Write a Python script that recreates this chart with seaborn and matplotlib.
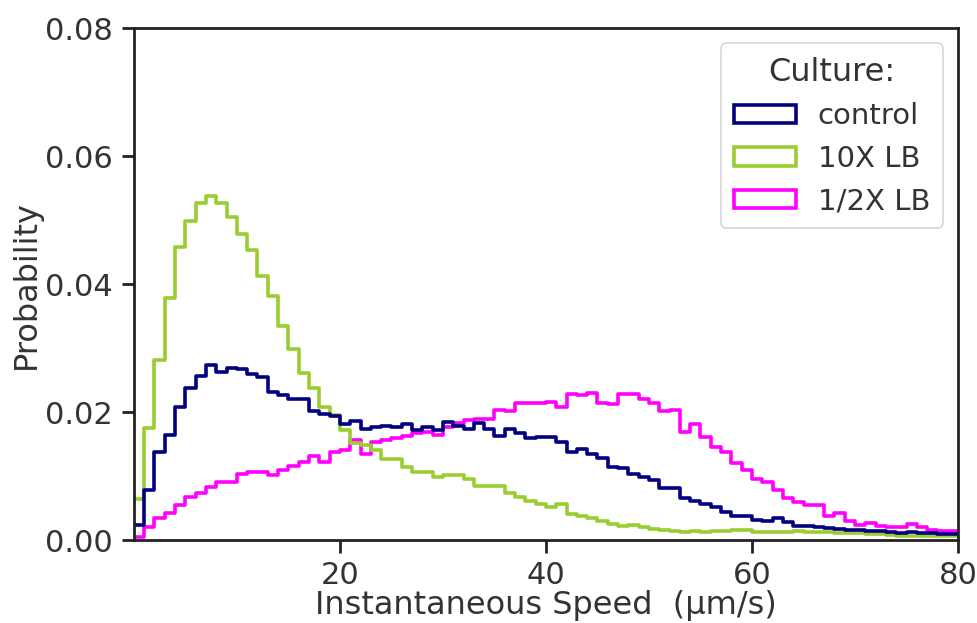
import numpy as np
import pandas as pd
import matplotlib
matplotlib.use("Agg")
import matplotlib.pyplot as plt
from matplotlib.patches import Patch
import seaborn as sns

# ---- data (probability per 1 µm/s bin, bins 0..80) ----
bin_edges = list(range(0, 81))
cultures = ["control", "10X LB", "1/2X LB"]
colors = ["navy", "yellowgreen", "magenta"]

control = [
    0.0023, 0.0078, 0.0138, 0.0164, 0.0208, 0.0238, 0.0256, 0.0274, 0.0262, 0.0269,
    0.0267, 0.0260, 0.0255, 0.0231, 0.0227, 0.0221, 0.0221, 0.0202, 0.0197, 0.0194,
    0.0182, 0.0186, 0.0173, 0.0177, 0.0178, 0.0176, 0.0182, 0.0172, 0.0177, 0.0172,
    0.0185, 0.0178, 0.0174, 0.0183, 0.0174, 0.0163, 0.0174, 0.0167, 0.0160, 0.0161,
    0.0161, 0.0154, 0.0138, 0.0143, 0.0135, 0.0129, 0.0115, 0.0112, 0.0104, 0.0099,
    0.0094, 0.0081, 0.0082, 0.0066, 0.0061, 0.0056, 0.0051, 0.0044, 0.0038, 0.0038,
    0.0031, 0.0030, 0.0034, 0.0029, 0.0022, 0.0022, 0.0021, 0.0019, 0.0017, 0.0016,
    0.0016, 0.0014, 0.0014, 0.0012, 0.0011, 0.0013, 0.0011, 0.0011, 0.0009, 0.0009,
]
lb10x = [
    0.0065, 0.0175, 0.0281, 0.0378, 0.0458, 0.0498, 0.0527, 0.0538, 0.0526, 0.0505,
    0.0478, 0.0453, 0.0413, 0.0382, 0.0334, 0.0298, 0.0261, 0.0237, 0.0208, 0.0195,
    0.0172, 0.0151, 0.0149, 0.0141, 0.0126, 0.0126, 0.0115, 0.0107, 0.0107, 0.0099,
    0.0102, 0.0102, 0.0095, 0.0084, 0.0084, 0.0084, 0.0074, 0.0068, 0.0061, 0.0057,
    0.0052, 0.0056, 0.0041, 0.0038, 0.0034, 0.0030, 0.0025, 0.0022, 0.0023, 0.0021,
    0.0018, 0.0016, 0.0014, 0.0013, 0.0015, 0.0013, 0.0014, 0.0014, 0.0016, 0.0016,
    0.0013, 0.0013, 0.0013, 0.0013, 0.0015, 0.0012, 0.0013, 0.0012, 0.0011, 0.0011,
    0.0011, 0.0009, 0.0009, 0.0008, 0.0007, 0.0007, 0.0006, 0.0006, 0.0006, 0.0006,
]
lb_half = [
    0.0005, 0.0021, 0.0034, 0.0042, 0.0055, 0.0068, 0.0073, 0.0083, 0.0091, 0.0091,
    0.0104, 0.0107, 0.0107, 0.0101, 0.0110, 0.0116, 0.0122, 0.0131, 0.0122, 0.0137,
    0.0141, 0.0156, 0.0134, 0.0154, 0.0157, 0.0160, 0.0163, 0.0167, 0.0169, 0.0164,
    0.0176, 0.0183, 0.0188, 0.0190, 0.0189, 0.0204, 0.0202, 0.0214, 0.0214, 0.0214,
    0.0216, 0.0208, 0.0229, 0.0227, 0.0230, 0.0215, 0.0212, 0.0228, 0.0228, 0.0220,
    0.0215, 0.0201, 0.0204, 0.0169, 0.0181, 0.0161, 0.0146, 0.0138, 0.0121, 0.0109,
    0.0096, 0.0091, 0.0079, 0.0066, 0.0060, 0.0055, 0.0055, 0.0038, 0.0042, 0.0030,
    0.0024, 0.0027, 0.0022, 0.0021, 0.0021, 0.0025, 0.0021, 0.0016, 0.0014, 0.0014,
]
x_ticks = [20, 40, 60, 80]
y_ticks = [0.00, 0.02, 0.04, 0.06, 0.08]

# ---- build long table ----
centers = (np.array(bin_edges[:-1]) + np.array(bin_edges[1:])) / 2.0
frames = []
for name, vals in zip(cultures, [control, lb10x, lb_half]):
    frames.append(pd.DataFrame({"speed": centers, "prob": vals, "Culture": name}))
df = pd.concat(frames, ignore_index=True)

sns.set_theme(style="ticks")
plt.rcParams["font.family"] = ["DejaVu Sans"]
text_color = "#333333"
plt.rcParams.update({
    "text.color": text_color, "axes.labelcolor": text_color,
    "xtick.color": "#222222", "ytick.color": "#222222",
    "axes.edgecolor": "#222222",
})

FS = 23
fig = plt.figure(figsize=(9.77, 6.23), dpi=100)
ax = fig.add_axes([0.137, 0.133, 0.8436, 0.822])

sns.histplot(
    data=df, x="speed", weights="prob", hue="Culture", hue_order=cultures,
    palette=dict(zip(cultures, colors)), bins=bin_edges, stat="count",
    element="step", fill=False, linewidth=2.6, legend=False, ax=ax,
)

ax.set_xlim(0, 80)
ax.set_ylim(0, 0.08)
ax.set_xticks(x_ticks)
ax.set_yticks(y_ticks)
ax.set_yticklabels([f"{v:.2f}" for v in y_ticks])
ax.tick_params(axis="both", labelsize=22, length=9, width=2, pad=6,
               labelcolor=text_color)
for sp in ax.spines.values():
    sp.set_linewidth(2)
ax.set_xlabel("Instantaneous Speed  (\u00b5m/s)", fontsize=FS, labelpad=0)
ax.set_ylabel("Probability", fontsize=FS, labelpad=2)

handles = [Patch(facecolor="none", edgecolor=c, linewidth=2.6, label=n)
           for n, c in zip(cultures, colors)]
leg = ax.legend(handles=handles, title="Culture:", loc="upper right",
                fontsize=21, title_fontsize=23, frameon=True,
                handlelength=2.1, handleheight=0.6, handletextpad=0.75,
                borderpad=0.45, labelspacing=0.5, borderaxespad=0.0,
                bbox_to_anchor=(0.982, 0.97))
leg.get_frame().set_edgecolor("#cccccc")
leg.get_frame().set_linewidth(1.2)

fig.savefig("out.png", dpi=100)
